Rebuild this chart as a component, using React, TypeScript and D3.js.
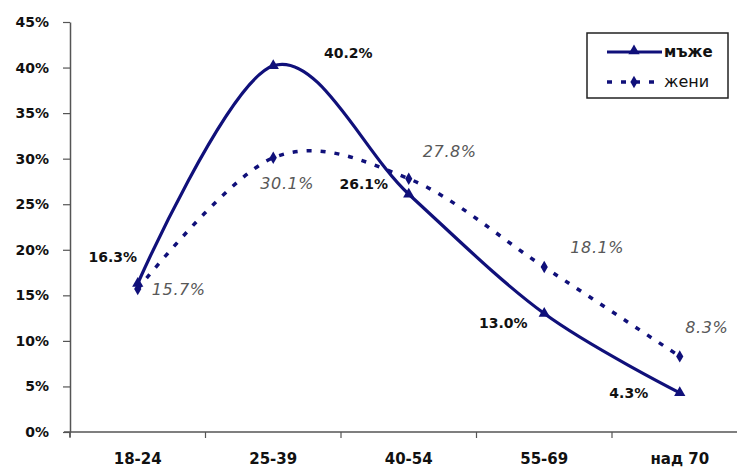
import React, { useEffect, useRef } from 'react';
import * as d3 from 'd3';

const categories = ['18-24', '25-39', '40-54', '55-69', 'над 70'];
const men = [16.3, 40.2, 26.1, 13.0, 4.3];
const women = [15.7, 30.1, 27.8, 18.1, 8.3];
const yTicks = [0, 5, 10, 15, 20, 25, 30, 35, 40, 45];

// label offsets from each point (layout only)
const menLabelOffsets: [number, number][] = [[-25, -26], [75, -13], [-45, -10], [-41, 10], [-51, 0]];
const womenLabelOffsets: [number, number][] = [[41, 0], [14, 26], [41, -27], [53, -20], [27, -29]];

const W = 737;
const H = 468;
const NAVY = '#10107a';
const BOLD_FONT = '"DejaVu Sans", Verdana, sans-serif';

const App: React.FC = () => {
  const svgRef = useRef<SVGSVGElement>(null);

  useEffect(() => {
    if (!svgRef.current) return;
    const svg = d3.select(svgRef.current);
    svg.selectAll('*').remove();

    const left = 70;
    const bandW = 135.5;
    const x = d3.scaleBand<string>()
      .domain(categories)
      .range([left, left + bandW * categories.length])
      .padding(0);
    const cx = (c: string) => (x(c) || 0) + x.bandwidth() / 2;

    const y = d3.scaleLinear().domain([0, 45]).range([432, 22]);

    // y axis
    const yAxis = svg.append('g')
      .attr('transform', `translate(${left}, 0)`)
      .call(d3.axisLeft(y).tickValues(yTicks).tickSize(7).tickSizeOuter(0).tickFormat(d => `${d}%`));
    yAxis.select('.domain').attr('stroke', '#555').attr('stroke-width', 1.5);
    yAxis.selectAll('.tick line').attr('stroke', '#555').attr('stroke-width', 1.2);
    yAxis.selectAll('.tick text')
      .attr('x', -21)
      .style('font-family', BOLD_FONT)
      .style('font-size', '14px')
      .style('font-weight', 'bold')
      .attr('fill', '#111');
    yAxis.append('line')
      .attr('x1', 0).attr('x2', 0)
      .attr('y1', y(0)).attr('y2', y(0) + 5)
      .attr('stroke', '#555').attr('stroke-width', 1.5);

    // x axis
    const xAxis = svg.append('g');
    xAxis.append('line')
      .attr('x1', left - 6).attr('x2', W)
      .attr('y1', y(0)).attr('y2', y(0))
      .attr('stroke', '#555').attr('stroke-width', 1.5);
    const edges = categories.map(c => x(c) || 0);
    xAxis.selectAll('.xtick')
      .data(edges)
      .enter()
      .append('line')
      .attr('x1', d => d).attr('x2', d => d)
      .attr('y1', y(0)).attr('y2', y(0) + 6)
      .attr('stroke', '#555').attr('stroke-width', 1.2);
    xAxis.selectAll('.xlabel')
      .data(categories)
      .enter()
      .append('text')
      .attr('x', d => cx(d))
      .attr('y', 464)
      .attr('text-anchor', 'middle')
      .style('font-family', BOLD_FONT)
      .style('font-size', '15px')
      .style('font-weight', 'bold')
      .attr('fill', '#111')
      .text(d => d);

    const line = d3.line<number>()
      .x((_, i) => cx(categories[i]))
      .y(d => y(d))
      .curve(d3.curveCardinal.tension(0));

    // women (dashed)
    svg.append('path')
      .datum(women)
      .attr('d', line)
      .attr('fill', 'none')
      .attr('stroke', NAVY)
      .attr('stroke-width', 3.5)
      .attr('stroke-dasharray', '5,9');

    // men (solid)
    svg.append('path')
      .datum(men)
      .attr('d', line)
      .attr('fill', 'none')
      .attr('stroke', NAVY)
      .attr('stroke-width', 3.2);

    const tri = d3.symbol().type(d3.symbolTriangle).size(55);
    const dia = d3.symbol().type(d3.symbolDiamond).size(45);

    svg.selectAll('.mm')
      .data(men)
      .enter()
      .append('path')
      .attr('d', tri)
      .attr('transform', (d, i) => `translate(${cx(categories[i])}, ${y(d)})`)
      .attr('fill', NAVY);

    svg.selectAll('.wm')
      .data(women)
      .enter()
      .append('path')
      .attr('d', dia)
      .attr('transform', (d, i) => `translate(${cx(categories[i])}, ${y(d)})`)
      .attr('fill', NAVY);

    // labels
    svg.selectAll('.ml')
      .data(men)
      .enter()
      .append('text')
      .attr('x', (d, i) => cx(categories[i]) + menLabelOffsets[i][0])
      .attr('y', (d, i) => y(d) + menLabelOffsets[i][1])
      .attr('dy', '0.35em')
      .attr('text-anchor', 'middle')
      .style('font-family', BOLD_FONT)
      .style('font-size', '14px')
      .style('font-weight', 'bold')
      .attr('fill', '#111')
      .text(d => `${d.toFixed(1)}%`);

    svg.selectAll('.wl')
      .data(women)
      .enter()
      .append('text')
      .attr('x', (d, i) => cx(categories[i]) + womenLabelOffsets[i][0])
      .attr('y', (d, i) => y(d) + womenLabelOffsets[i][1])
      .attr('dy', '0.35em')
      .attr('text-anchor', 'middle')
      .style('font-family', '"DejaVu Sans", sans-serif')
      .style('font-size', '16px')
      .style('font-style', 'italic')
      .style('letter-spacing', '0.6px')
      .attr('fill', '#585858')
      .text(d => `${d.toFixed(1)}%`);

    // legend
    const lg = svg.append('g');
    lg.append('rect')
      .attr('x', 587).attr('y', 33)
      .attr('width', 141).attr('height', 65)
      .attr('fill', '#fff')
      .attr('stroke', '#222').attr('stroke-width', 1.5);
    lg.append('line')
      .attr('x1', 607).attr('x2', 662).attr('y1', 52).attr('y2', 52)
      .attr('stroke', NAVY).attr('stroke-width', 3.2);
    lg.append('path')
      .attr('d', tri)
      .attr('transform', 'translate(634, 51)')
      .attr('fill', NAVY);
    lg.append('text')
      .attr('x', 664).attr('y', 57)
      .style('font-family', BOLD_FONT)
      .style('font-size', '15px')
      .style('font-weight', 'bold')
      .attr('fill', '#111')
      .text('мъже');
    lg.append('line')
      .attr('x1', 607).attr('x2', 662).attr('y1', 82).attr('y2', 82)
      .attr('stroke', NAVY).attr('stroke-width', 3.5)
      .attr('stroke-dasharray', '5,9');
    lg.append('path')
      .attr('d', dia)
      .attr('transform', 'translate(634, 82)')
      .attr('fill', NAVY);
    lg.append('text')
      .attr('x', 664).attr('y', 87)
      .style('font-family', '"DejaVu Sans", sans-serif')
      .style('font-size', '16px')
      .attr('fill', '#111')
      .text('жени');
  }, []);

  return (
    <svg
      ref={svgRef}
      width={W}
      height={H}
      style={{ position: 'absolute', left: 0, top: 0, background: '#fff' }}
    />
  );
};

export default App;
